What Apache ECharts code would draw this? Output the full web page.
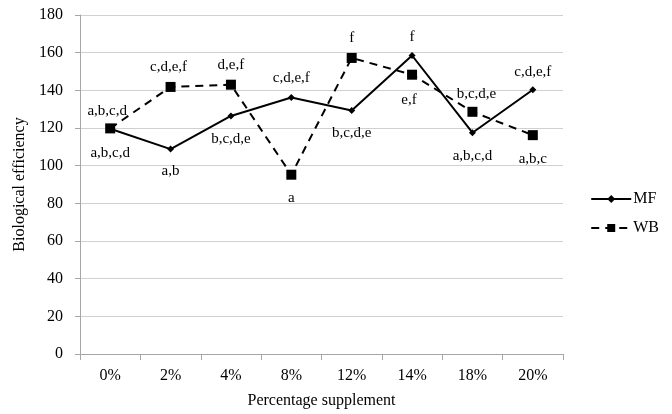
<!DOCTYPE html>
<html><head><meta charset="utf-8">
<script src="https://cdn.jsdelivr.net/npm/echarts@6/dist/echarts.min.js"></script>
<style>html,body{margin:0;padding:0;background:#fff}#c{width:672px;height:414px}</style>
</head><body><div id="c"></div>
<script>
const categories = ['0%','2%','4%','8%','12%','14%','18%','20%'];
const mfValues = [119.6, 108.8, 126.4, 136.2, 129.3, 158.5, 117.5, 140.3];
const wbValues = [119.8, 141.8, 143.0, 95.2, 157.2, 148.3, 128.6, 116.2];
const mfLetters = ['a,b,c,d','a,b','b,c,d,e','c,d,e,f','b,c,d,e','f','a,b,c,d','c,d,e,f'];
const wbLetters = ['a,b,c,d','c,d,e,f','d,e,f','a','f','e,f','b,c,d,e','a,b,c'];
const yTicks = [0,20,40,60,80,100,120,140,160,180];

const FONT = 'Liberation Serif';
// label placement (style only)
const mfPos = [['bottom',[0,6]],['bottom',[0,4]],['bottom',[0,5]],['top',[0,-1]],['bottom',[0,5]],['top',[0,0]],['bottom',[0,5]],['top',[0,0]]];
const wbPos = [['top',[-3,2]],['top',[-2,0]],['top',[0,0]],['bottom',[0,4]],['top',[0,0]],['bottom',[-3,6]],['top',[4,2]],['bottom',[0,4]]];

function mk(vals, letters, pos){
  return vals.map((v,i)=>({value:v, label:{show:true, formatter:letters[i], position:pos[i][0], offset:pos[i][1], distance:7}}));
}
const chart = echarts.init(document.getElementById('c'), null, {renderer:'canvas'});
chart.setOption({
  animation:false,
  textStyle:{fontFamily:FONT},
  grid:{left:80, right:109, top:15, bottom:59, containLabel:false},
  legend:{
    orient:'vertical', right:8, top:186, itemGap:13, itemWidth:40, itemHeight:10,
    textStyle:{fontFamily:FONT, fontSize:16, color:'#000', padding:[0,0,0,-3]},
    data:[{name:'MF'},{name:'WB'}]
  },
  xAxis:{
    type:'category', data:categories,
    name:'Percentage supplement', nameLocation:'middle', nameGap:39,
    nameTextStyle:{fontFamily:FONT, fontSize:16, color:'#000'},
    axisLine:{lineStyle:{color:'#a6a6a6', width:1}},
    axisTick:{show:true, length:6, lineStyle:{color:'#a6a6a6'}},
    axisLabel:{fontFamily:FONT, fontSize:16, color:'#000', margin:14}
  },
  yAxis:{
    type:'value', min:0, max:180, interval:20,
    name:'Biological efficiency', nameLocation:'middle', nameGap:50, nameRotate:90,
    nameTextStyle:{fontFamily:FONT, fontSize:16, color:'#000'},
    axisLine:{show:true, lineStyle:{color:'#a6a6a6', width:1}},
    axisTick:{show:true, length:5, lineStyle:{color:'#a6a6a6'}},
    axisLabel:{fontFamily:FONT, fontSize:16, color:'#000', margin:17,
      formatter:(v)=> yTicks.includes(v) ? String(v) : ''},
    splitLine:{show:true, lineStyle:{color:'#d0d0d0', width:1}}
  },
  series:[
    {name:'MF', type:'line', data:mk(mfValues, mfLetters, mfPos),
     symbol:'diamond', symbolSize:7, itemStyle:{color:'#000'},
     lineStyle:{color:'#000', width:2},
     label:{fontFamily:FONT, fontSize:15, color:'#000'}, z:3},
    {name:'WB', type:'line', data:mk(wbValues, wbLetters, wbPos),
     symbol:'rect', symbolSize:10, itemStyle:{color:'#000'},
     lineStyle:{color:'#000', width:2, type:[8,6]},
     label:{fontFamily:FONT, fontSize:15, color:'#000'}, z:2}
  ]
});
</script></body></html>
